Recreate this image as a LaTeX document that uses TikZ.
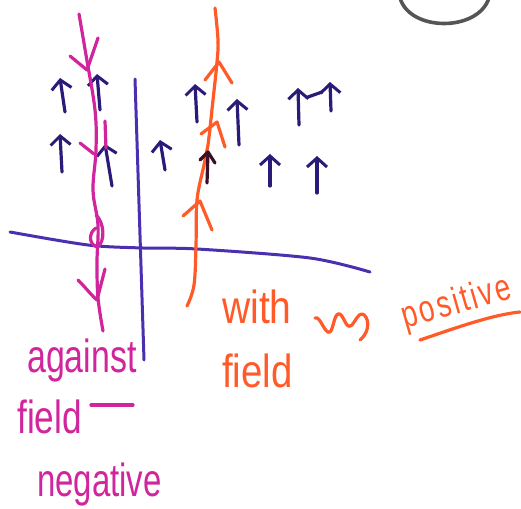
\documentclass[tikz,border=0pt]{standalone}
\usepackage{fontspec}
\setmainfont{Liberation Sans}
\newfontfamily\posfont[LetterSpace=9]{Liberation Sans}
\usetikzlibrary{arrows.meta}
\definecolor{mag}{HTML}{D0259C}
\definecolor{org}{HTML}{FF5A28}
\definecolor{dblue}{HTML}{2B1A78}
\definecolor{axblue}{HTML}{4A30B0}
\definecolor{brn}{HTML}{3A1028}
\definecolor{grayc}{HTML}{555555}
\tikzset{
  pen/.style={line width=3.2pt, line cap=round, line join=round},
  fieldarrow/.style={pen, draw=dblue, -{Straight Barb[length=9pt,width=20pt,line width=3pt]}},
  lbl/.style={inner sep=0pt, font=\fontsize{32}{34}\selectfont, yscale=1.45},
}
\begin{document}
\begin{tikzpicture}[x=1pt,y=-1pt]
\useasboundingbox (0,0) rectangle (521,508);
% gray arc top right
\draw[pen, draw=grayc, line width=3.6pt] (400,-2) .. controls (410,32) and (478,32) .. (489,-2);
% axes
\coordinate (vt) at (135,79);
\coordinate (vb) at (144,360);
\draw[pen, draw=axblue, line width=3pt] (vt) -- (vb);
\coordinate (hl) at (10,232);
\coordinate (hr) at (370,272);
\draw[pen, draw=axblue, line width=3pt] plot[smooth] coordinates {(hl) (88,245) (143,248) (197,249) (310,258) (hr)};
% field arrows
\foreach \bx/\by/\tx/\ty [count=\i] in {65/112/60/78, 100/110/97/74, 62/172/60/134, 112/186/105/144,
   165/170/160/140, 197/122/195/84, 239/145/237/99, 299/125/298/88, 331/111/330/82,
   270/186/270/154, 317/193/317/156}{
  \coordinate (fa\i) at (\bx,\by);
  \coordinate (fb\i) at (\tx,\ty);
  \draw[fieldarrow] (fa\i) -- (fb\i);
}
\draw[pen, draw=dblue] (308,97) -- (322,92);
% magenta line (against field)
\coordinate (mt) at (79,14);
\coordinate (mb) at (103,331);
\draw[pen, draw=mag] plot[smooth, tension=0.6] coordinates {(mt) (86,55) (95,110) (96,150) (93,190) (98,225) (97,262) (98,298) (mb)};
\draw[pen, draw=mag] (70,56) -- (87,70) -- (98,38);
\draw[pen, draw=mag] (80,143) -- (94,154);
\draw[pen, draw=mag] (105,121) -- (106,148);
\draw[pen, draw=mag] (96,215) .. controls (104,222) and (106,242) .. (97,247) .. controls (88,244) and (89,232) .. (96,228);
\draw[pen, draw=mag] (78,280) .. controls (86,288) and (92,296) .. (97,300) -- (105,269);
% orange line (with field)
\coordinate (ot) at (215,8);
\coordinate (ob) at (187,306);
\draw[pen, draw=org] plot[smooth, tension=0.6] coordinates {(ot) (218,40) (217,62) (213,100) (208,145) (204,165) (197,200) (196,245) (194,285) (ob)};
\draw[pen, draw=org] (205,80) -- (219,62) -- (232,83);
\draw[pen, draw=org] (201,134) -- (217,122) -- (225,147);
\draw[pen, draw=org] (183,216) -- (200,201) -- (212,230);
\draw[pen, draw=brn] (207,183) -- (208,152);
\draw[pen, draw=brn] (200,160) -- (208,152) -- (215,163);
% labels
\node[lbl, text=mag, anchor=south west, xscale=1.06] (against) at (27,382) {against};
\node[lbl, text=mag, anchor=south west, xscale=1.1] (field1) at (17,434) {field};
\draw[pen, draw=mag] (91,405) -- (133,405);
\node[lbl, text=mag, anchor=south west, xscale=1.03] (negative) at (37,506) {negative};
\node[lbl, text=org, anchor=south west, xscale=1.22] (with) at (222,324) {with};
\node[lbl, text=org, anchor=south west, xscale=1.2] (field2) at (222,388) {field};
\draw[pen, draw=org] (315,318) .. controls (320,315) and (325,335) .. (330,332) .. controls (334,328) and (334,312) .. (340,314) .. controls (345,318) and (346,330) .. (352,325) .. controls (356,320) and (358,314) .. (362,314) .. controls (368,315) and (372,330) .. (360,340);
\node[inner sep=0pt, text=org, rotate=16, font=\posfont\fontsize{28}{30}\selectfont, yscale=1.35] (positive) at (457,304) {positive};
\draw[pen, draw=org] (420,340) .. controls (450,330) and (490,315) .. (520,312);
\end{tikzpicture}
\end{document}
